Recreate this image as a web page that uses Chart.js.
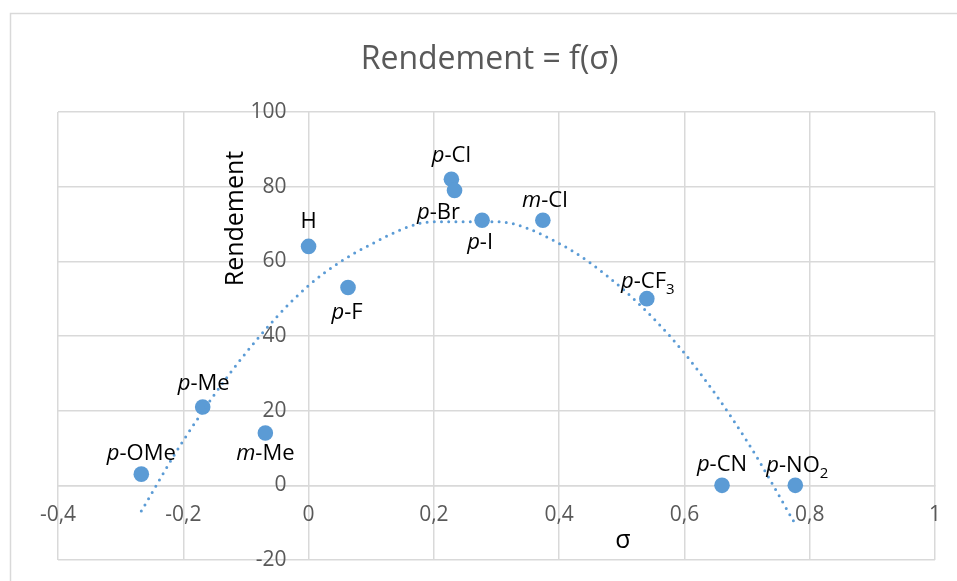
<!DOCTYPE html>
<html>
<head>
<meta charset="utf-8">
<script src="https://cdn.jsdelivr.net/npm/chart.js@4"></script>
<style>
html,body{margin:0;padding:0;background:#fff;}
#wrap{position:relative;width:957px;height:581px;}
</style>
</head>
<body>
<div id="wrap"><canvas id="c"></canvas></div>
<script>
// ---- data ----
const substituents = ['p-OMe','p-Me','m-Me','H','p-F','p-Cl','p-Br','p-I','m-Cl','p-CF3','p-CN','p-NO2'];
const sigma        = [-0.267,-0.169,-0.069,0,0.063,0.228,0.233,0.277,0.374,0.54,0.66,0.777];
const rendement    = [3,21,14,64,53,82,79,71,71,50,0,0];
// dotted polynomial trend line
const trendSigma     = [-0.267,-0.2,-0.1,0,0.1,0.2,0.3,0.4,0.5,0.6,0.7,0.776];
const trendRendement = [-6.9,12.0,35.5,53.5,64.6,70.6,70.6,64.8,52.8,35.4,11.8,-10.1];
const xTickValues = [-0.4,-0.2,0,0.2,0.4,0.6,0.8,1];
const xTickLabels = ['-0,4','-0,2','0','0,2','0,4','0,6','0,8','1'];
const yTickValues = [-20,0,20,40,60,80,100];
const yTickLabels = ['-20','0','20','40','60','80','100'];
const chartTitle = 'Rendement = f(σ)';
const xTitle = 'σ';
const yTitle = 'Rendement';

// ---- styling ----
const FONT = '"Open Sans", "DejaVu Sans", sans-serif';
const BLUE = '#5b9bd5';
const GRID = '#d9d9d9';
// y tick labels sit a little left of the vertical axis (axis itself is the x=0 grid line)
const Y_LABEL_ANCHOR = -0.0351;
// label placement offsets (dx, dy to text baseline) per point
const labelOffsets = [[0,-14],[1,-17],[0,27],[0,-18],[-1,32],[0,-17],[-16,29],[-2,29],[2,-13],[1,-11],[0,-14],[2,-13]];

const pointData = sigma.map((s,i)=>({x:s,y:rendement[i]}));
const trendData = trendSigma.map((s,i)=>({x:s,y:trendRendement[i]}));

function zeroPad(scale){ scale.paddingLeft=0; scale.paddingRight=0; scale.paddingTop=0; scale.paddingBottom=0; }

const decorPlugin = {
  id:'decor',
  beforeDraw(chart){
    const ctx = chart.ctx;
    ctx.save();
    ctx.strokeStyle = GRID;
    ctx.lineWidth = 1.5;
    ctx.beginPath();
    ctx.moveTo(10.5, 581); ctx.lineTo(10.5, 13.5); ctx.lineTo(957, 13.5);
    ctx.stroke();
    ctx.restore();
  },
  afterDraw(chart){
    const ctx = chart.ctx;
    ctx.save();
    // chart title
    ctx.fillStyle = '#595959';
    ctx.font = '32px ' + FONT;
    ctx.textAlign = 'center';
    ctx.textBaseline = 'alphabetic';
    ctx.fillText(chartTitle, 489.5, 69);
    // axis titles
    ctx.fillStyle = '#000';
    ctx.font = '25px ' + FONT;
    ctx.fillText(xTitle, 623, 548);
    ctx.save();
    ctx.translate(243, 218.5);
    ctx.rotate(-Math.PI/2);
    ctx.fillText(yTitle, 0, 0);
    ctx.restore();
    // data labels
    const meta = chart.getDatasetMeta(1);
    const mainFont = '22px ' + FONT;
    const italFont = 'italic 22px ' + FONT;
    const subFont = '15px ' + FONT;
    meta.data.forEach((el, i) => {
      const txt = substituents[i];
      const parts = [];
      let rest = txt;
      const m = /^([pm])(-.*)$/.exec(txt);
      if (m) { parts.push({t:m[1], f:italFont, dy:0}); rest = m[2]; }
      const s = /^(.*?)(\d+)$/.exec(rest);
      if (s) { parts.push({t:s[1], f:mainFont, dy:0}); parts.push({t:s[2], f:subFont, dy:6}); }
      else parts.push({t:rest, f:mainFont, dy:0});
      let w = 0;
      parts.forEach(p => { ctx.font = p.f; p.w = ctx.measureText(p.t).width; w += p.w; });
      let x = el.x + labelOffsets[i][0] - w/2;
      const y = el.y + labelOffsets[i][1];
      ctx.textAlign = 'left';
      ctx.fillStyle = '#000';
      parts.forEach(p => { ctx.font = p.f; ctx.fillText(p.t, x, y + p.dy); x += p.w; });
    });
    ctx.restore();
  }
};

new Chart(document.getElementById('c'), {
  type: 'scatter',
  data: {
    datasets: [
      {
        label: 'Tendance',
        data: trendData,
        showLine: true,
        pointRadius: 0,
        pointHoverRadius: 0,
        borderColor: BLUE,
        borderWidth: 3,
        borderDash: [0, 7.2],
        borderCapStyle: 'round',
        cubicInterpolationMode: 'monotone',
        fill: false
      },
      {
        label: 'Rendement',
        data: pointData,
        pointRadius: 7.8,
        pointHoverRadius: 7.8,
        backgroundColor: BLUE,
        borderColor: BLUE,
        borderWidth: 0
      }
    ]
  },
  options: {
    responsive: true,
    maintainAspectRatio: false,
    animation: false,
    events: [],
    layout: { padding: { left: 58, right: 22, top: 112, bottom: 21 } },
    plugins: {
      legend: { display: false },
      title: { display: false },
      tooltip: { enabled: false }
    },
    scales: {
      x: {
        type: 'linear',
        position: { y: 0 },
        min: -0.4, max: 1,
        afterBuildTicks: s => { s.ticks = xTickValues.map(v => ({value: v})); },
        afterFit: zeroPad,
        grid: { color: GRID, lineWidth: 1.5, drawTicks: false },
        border: { display: true, color: GRID, width: 1.5 },
        ticks: {
          color: '#595959',
          font: { family: FONT, size: 21 },
          padding: 17,
          maxRotation: 0,
          callback: (v, i) => xTickLabels[i]
        }
      },
      y: {
        type: 'linear',
        position: { x: Y_LABEL_ANCHOR },
        min: -20, max: 100,
        afterBuildTicks: s => { s.ticks = yTickValues.map(v => ({value: v})); },
        afterFit: zeroPad,
        grid: { color: GRID, lineWidth: 1.5, drawTicks: false },
        border: { display: false },
        ticks: {
          color: '#595959',
          font: { family: FONT, size: 21 },
          padding: 0,
          callback: (v, i) => yTickLabels[i]
        }
      }
    }
  },
  plugins: [decorPlugin]
});
</script>
</body>
</html>
